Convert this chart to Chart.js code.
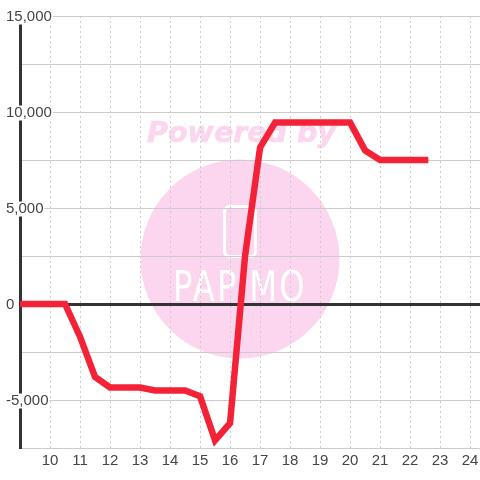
<!DOCTYPE html>
<html>
<head>
<meta charset="utf-8">
<style>
  html, body { margin: 0; padding: 0; background: #fff; }
  #wrap { width: 480px; height: 480px; }
</style>
<script src="https://cdn.jsdelivr.net/npm/chart.js@4"></script>
</head>
<body>
<div id="wrap"><canvas id="chart" width="480" height="480"></canvas></div>
<script>
// hours, half hour steps
const hours = [9, 9.5, 10, 10.5, 11, 11.5, 12, 12.5, 13, 13.5, 14, 14.5, 15, 15.5, 16, 16.5,
    17, 17.5, 18, 18.5, 19, 19.5, 20, 20.5, 21, 21.5, 22, 22.5];
const balance = [0, 0, 0, 0, -1700, -3800, -4350, -4350, -4350, -4500, -4500, -4500, -4800, -7100, -6200, 2500,
    8150, 9450, 9450, 9450, 9450, 9450, 9450, 8000, 7500, 7500, 7500, 7500];
const xRange = [9, 24.33];
const xTicks = [10, 11, 12, 13, 14, 15, 16, 17, 18, 19, 20, 21, 22, 23, 24];
const yRange = [-7500, 15000];
const yLabelled = [15000, 10000, 5000, 0, -5000];

// pink mark sitting behind the grid
const watermark = {
    id: 'watermark',
    beforeDraw: function(chart) {
        const ctx = chart.ctx;
        ctx.save();
        ctx.fillStyle = '#fbd6ee';
        ctx.beginPath();
        ctx.arc(240, 259, 99.5, 0, Math.PI * 2);
        ctx.fill();

        ctx.font = 'italic bold 28.5px "DejaVu Sans"';
        ctx.textAlign = 'center';
        ctx.textBaseline = 'middle';
        ctx.fillText('Powered by', 241.5, 135);
        ctx.strokeStyle = '#fbd6ee';
        ctx.lineWidth = 0.6;
        ctx.strokeText('Powered by', 241.5, 135);

        ctx.strokeStyle = '#fff';
        ctx.lineWidth = 3;
        ctx.beginPath();
        ctx.roundRect(224.5, 206.5, 31, 50, 5);
        ctx.stroke();

        // squeeze the logo word to its width
        ctx.fillStyle = '#fff';
        ctx.font = '42px "DejaVu Sans"';
        ctx.letterSpacing = '3px';
        const w = ctx.measureText('PAPiMO').width;
        ctx.translate(240, 290);
        ctx.scale(134 / w, 1);
        ctx.fillText('PAPiMO', 0, 0);
        ctx.restore();
    }
};

new Chart(document.getElementById('chart').getContext('2d'), {
    type: 'line',
    data: {
        labels: hours,
        datasets: [{
            data: hours.map((h, i) => ({ x: h, y: balance[i] })),
            borderColor: '#f32236',
            borderWidth: 6.5,
            borderCapStyle: 'square',
            borderJoinStyle: 'miter',
            pointRadius: 0,
            tension: 0,
            fill: false
        }]
    },
    options: {
        responsive: false,
        animation: false,
        layout: { padding: { left: 6, top: 16, right: 0, bottom: 0 } },
        plugins: { legend: { display: false }, tooltip: { enabled: false } },
        scales: {
            x: {
                type: 'linear',
                min: xRange[0],
                max: xRange[1],
                afterBuildTicks: function(axis) {
                    axis.ticks = xTicks.map((v) => ({ value: v }));
                },
                afterFit: function(axis) {
                    axis.height = 32;
                    axis.paddingRight = 0;
                    axis.paddingLeft = 0;
                },
                grid: { color: '#cccccc', lineWidth: 1, drawTicks: false },
                border: { display: false, dash: [2, 3] },
                ticks: {
                    autoSkip: false,
                    maxRotation: 0,
                    padding: 4,
                    color: '#444444',
                    font: { family: '"Liberation Sans"', size: 15 },
                    callback: (v) => String(v)
                }
            },
            y: {
                min: yRange[0],
                max: yRange[1],
                afterFit: function(axis) {
                    axis.width = 14;
                    axis.paddingTop = 0;
                    axis.paddingBottom = 0;
                },
                grid: {
                    drawTicks: false,
                    color: (c) => c.tick && c.tick.value === 0 ? '#333333' : '#cccccc',
                    lineWidth: (c) => c.tick && c.tick.value === 0 ? 3 : 1
                },
                border: { display: true, color: '#333333', width: 3 },
                ticks: {
                    stepSize: 2500,
                    autoSkip: false,
                    mirror: true,
                    padding: -14,
                    labelOffset: 1,
                    crossAlign: 'near',
                    color: '#444444',
                    font: { family: '"Liberation Sans"', size: 15, lineHeight: 1 },
                    showLabelBackdrop: true,
                    backdropColor: '#ffffff',
                    backdropPadding: { x: 1, y: 0 },
                    callback: (v) => yLabelled.includes(v) ? v.toLocaleString('en-US') : ''
                }
            }
        }
    },
    plugins: [watermark]
});
</script>
</body>
</html>
